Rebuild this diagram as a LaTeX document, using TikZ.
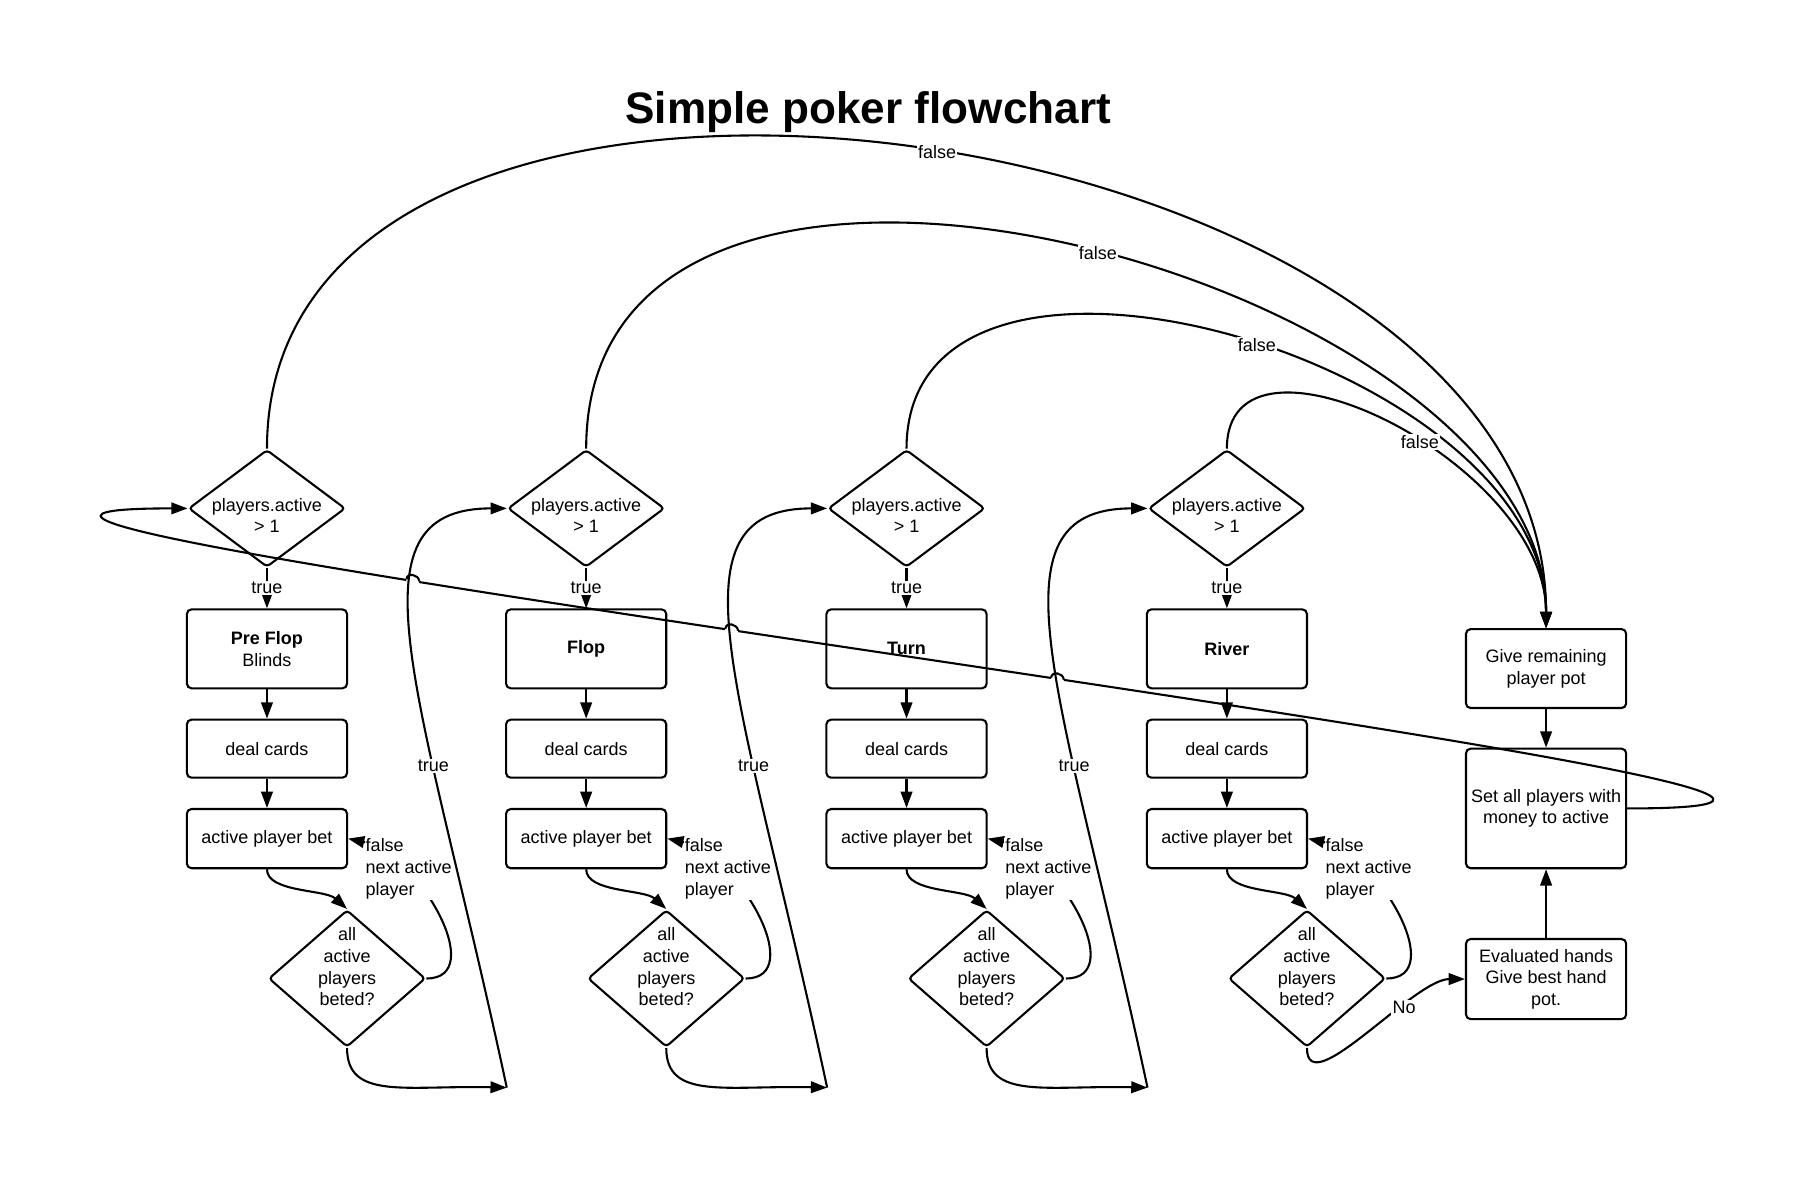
\documentclass[tikz,border=0pt]{standalone}
\usepackage{fontspec}
\setmainfont{Liberation Sans}
\usetikzlibrary{arrows.meta,shapes.geometric,intersections,calc}
\pgfdeclarelayer{bg}
\pgfsetlayers{bg,main}
\newcommand\lblfont{\fontsize{15.5}{18.7}\selectfont}
\begin{document}
\begin{tikzpicture}[x=1pt,y=-1pt]
\tikzset{
  ln/.style={line width=1.8pt},
  conn/.style={ln, -{Triangle[length=14pt,width=10pt]}},
  box/.style={draw, ln, rounded corners=4pt, minimum width=138pt, inner sep=2pt, align=center, font=\lblfont},
  topdia/.style={draw, ln, diamond, rounded corners=3pt, inner sep=0pt, minimum width=135pt, minimum height=101pt},
  botdia/.style={draw, ln, diamond, rounded corners=3pt, inner sep=0pt, minimum width=135pt, minimum height=118pt},
  intext/.style={font=\lblfont, align=center, inner sep=0pt},
  lab/.style={font=\lblfont, fill=white, inner sep=1pt},
}
\useasboundingbox (0,0) rectangle (1568,1032);
\node (title) at (748,97) {\fontsize{38}{40}\selectfont\bfseries Simple poker flowchart};

% columns
\foreach \i/\x/\t in {1/230/{\textbf{Pre Flop}\\Blinds},2/505/{\textbf{Flop}},3/781/{\textbf{Turn}},4/1057/{\textbf{River}}}{
  \node[topdia, label={[intext,yshift=-6pt]center:players.active\\> 1}] (d\i) at (\x,438) {};
  \node[box, minimum height=68pt] (s\i) at (\x,559) {\t};
  \node[box, minimum height=50pt] (c\i) at (\x,645) {deal cards};
  \node[box, minimum height=51pt] (b\i) at (\x,722.5) {active player bet};
  \node[botdia, label={[intext,yshift=10pt]center:all\\active\\players\\beted?}] (q\i) at (\x+69,843) {};
}

% right column
\node[box, minimum height=68pt] (give) at (1332,576) {Give remaining\\player pot};
\node[box, minimum height=103pt] (set) at (1332,696.5) {Set all players with\\money to active};
\node[box, minimum height=69pt] (ev) at (1332,843.5) {Evaluated hands\\Give best hand\\pot.};

% column connectors
\foreach \i in {1,2,3,4}{
  \draw[conn] (d\i.south) -- node[lab]{true} (s\i.north);
  \draw[conn] (s\i) -- (c\i);
  \draw[conn] (c\i) -- (b\i);
  \draw[conn] (b\i.south) .. controls +(0,20) and +(-19,-17) .. (q\i.north);
  \draw[conn] (q\i.east) .. controls +(54,0) and +(61,13) .. (b\i.east);
  \node[lab, align=left, anchor=west] (f\i) at ($(b\i.east)+(14,26)$) {false\\next active\\player};
}

% to next column
\foreach \i/\n in {1/2,2/3,3/4}{
  \path (d\n.west) ++(0,499) coordinate (j\i);
  \draw[conn] (q\i.south) .. controls +(0,45) and +(-87,-2) .. (j\i);
  \draw[conn, name path global=tc\i] (j\i) .. controls +(-72,-337) and +(-143,0) .. (d\n.west) node[lab,pos=0.33]{true};
}

\draw[conn] (give) -- (set);
\draw[conn] (ev) -- (set);
\draw[conn] (q4.south) .. controls +(0,48) and +(-44,0) .. (ev.west) node[lab,pos=0.68]{No};

% false arcs
\draw[conn] (d1.north) .. controls +(0,-446) and +(0,-452) .. (give.north) node[lab,pos=0.516]{false};
\draw[conn] (d2.north) .. controls +(0,-372) and +(0,-302) .. (give.north) node[lab,pos=0.522]{false};
\draw[conn] (d3.north) .. controls +(0,-234) and +(0,-232) .. (give.north) node[lab,pos=0.532]{false};
\draw[conn] (d4.north) .. controls +(0,-122.5) and +(0,-144) .. (give.north) node[lab,pos=0.57]{false};

% long loop back to the first decision
\begin{pgfonlayer}{bg}
\draw[conn, name path global=loop] (set.east) .. controls +(500,0) and +(-465,0) .. (d1.west);
\end{pgfonlayer}
\foreach \k in {1,2,3}{
  \path[name intersections={of=loop and tc\k, by={x\k}}];
  \begin{pgfonlayer}{bg}
    \draw[white, line width=4pt] ($(x\k)+(-5.5,-0.85)$) -- ($(x\k)+(5.5,0.85)$);
  \end{pgfonlayer}
  \draw[ln] ($(x\k)+(-5.5,-0.85)$) .. controls +(0.5,-6) and +(-0.5,-6) .. ($(x\k)+(5.5,0.85)$);
}
\end{tikzpicture}
\end{document}
